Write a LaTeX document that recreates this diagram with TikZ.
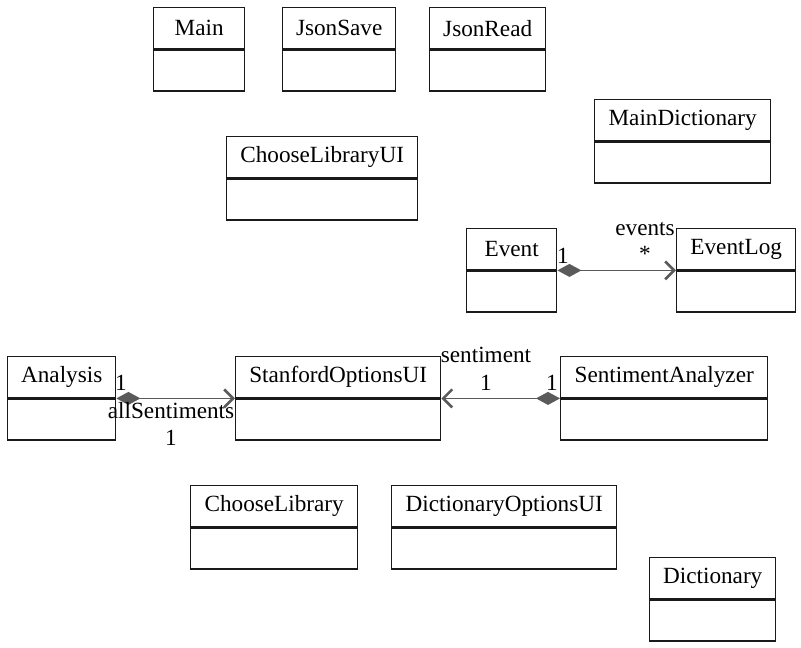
\documentclass[tikz,border=0pt]{standalone}
\usepackage{fontspec}
\setmainfont{Liberation Serif}
\usetikzlibrary{arrows.meta}
\definecolor{boxline}{HTML}{1A1A1A}
\definecolor{conn}{HTML}{5A5A5A}
\tikzset{
  clsbox/.style={draw=boxline, line width=1.4pt, fill=white, inner sep=0pt,
    font=\fontsize{23.2}{26}\selectfont, minimum height=41pt},
  assoc/.style={draw=conn, line width=1.8pt,
    {Diamond[length=24pt,width=13pt,fill=conn]}-{Straight Barb[length=9pt,width=18pt,line width=2.6pt]}},
  lbl/.style={font=\fontsize{23.2}{26}\selectfont, inner sep=0pt, text=black}
}
\newcommand\umlcls[5]{%
  \node[clsbox, anchor=north west, minimum width=#4pt] (#1) at (#2,#3) {#5};
  \node[clsbox, anchor=north, minimum width=#4pt] (#1-b) at (#1.south) {};
}
\begin{document}
\begin{tikzpicture}[x=1pt,y=-1pt]
\useasboundingbox (0,0) rectangle (801,648);
\umlcls{main}{153}{7}{91}{Main}
\umlcls{jsonsave}{282}{7}{113}{JsonSave}
\umlcls{jsonread}{429}{7}{116}{JsonRead}
\umlcls{maindict}{594}{99}{176}{MainDictionary}
\umlcls{chooselibui}{226}{136}{191}{ChooseLibraryUI}
\umlcls{event}{466}{228}{90}{Event}
\umlcls{eventlog}{676}{228}{119}{EventLog}
\umlcls{analysis}{7}{356}{108}{Analysis}
\umlcls{stanford}{235}{356}{205}{StanfordOptionsUI}
\umlcls{sentan}{560}{356}{207}{SentimentAnalyzer}
\umlcls{chooselib}{190}{485}{167}{ChooseLibrary}
\umlcls{dictopt}{391}{485}{225}{DictionaryOptionsUI}
\umlcls{dict}{649}{557}{126}{Dictionary}

\draw[assoc] (event.south east) -- (eventlog.south west);
\draw[assoc] (analysis.south east) -- (stanford.south west);
\draw[assoc] (sentan.south west) -- (stanford.south east);

\node[lbl] (l1) at (563,256) {1};
\node[lbl] (l2) at (645,229) {events};
\node[lbl] (l3) at (645,254) {*};
\node[lbl] (l4) at (121,383) {1};
\node[lbl] (l5) at (171,411) {allSentiments};
\node[lbl] (l6) at (171,438) {1};
\node[lbl] (l7) at (486,355) {sentiment};
\node[lbl] (l8) at (486,383) {1};
\node[lbl] (l9) at (552,383) {1};
\end{tikzpicture}
\end{document}
